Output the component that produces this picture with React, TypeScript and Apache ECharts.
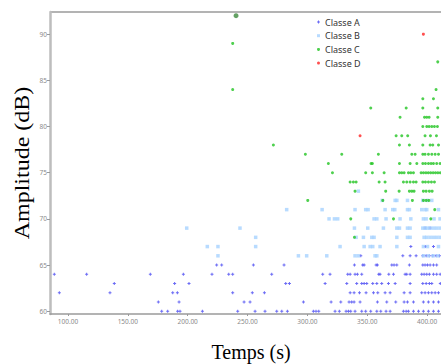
import React, { useEffect, useRef } from "react";
import * as echarts from "echarts";

// Amplitude (dB) -> times (s) of hits, per class
const classA: Record<number, number[]> = {
  60: [178.3, 183.3, 191.6, 193.6, 212.3, 241.8, 256.3, 264.6, 274.4, 278.6, 283.3, 305, 307.2, 309.5, 323.1, 326.7, 332.3, 334.3, 336.2, 339.8, 345.4, 348.7, 352.9, 358, 361.3, 365.7, 369.1, 380.2, 382.5, 384.4, 388.6, 392.8, 396.9, 401.1, 405.3, 409.5],
  61: [175.5, 192.8, 247.1, 252.1, 296.7, 319.8, 327.9, 334.8, 337, 339, 344, 358.5, 366.3, 373.8, 380.8, 383.6, 388.6, 396.9, 401.1, 405.3, 409.5],
  62: [92.8, 135.1, 187.5, 191.4, 237.6, 254, 264.1, 335.7, 339, 343.5, 349, 355.2, 358.8, 364.9, 369.1, 380.8, 385.8, 395.5, 398.3, 401.1, 403.9, 406.7, 409.5],
  63: [138.7, 189.1, 201.1, 281.9, 285, 314.8, 332.9, 341.2, 345.4, 347.4, 349.6, 354.6, 358, 362.1, 367.7, 373.3, 385.8, 396.4, 399.2, 401.9, 403.9, 411],
  64: [88.6, 115.6, 168.8, 196.4, 220.3, 234.3, 237.6, 270.2, 312.8, 318.9, 333.7, 335.7, 339.8, 341.8, 345.4, 359.6, 360.7, 368, 371.9, 381.6, 383, 385.8, 395.5, 397.5, 399.7, 401.9, 405.3, 408, 410.9],
  65: [224.2, 228.4, 254.9, 280.5, 339.3, 346.2, 347.4, 357.4, 358.5, 370.5, 372.4, 374.7, 385.2, 396.4, 398.3, 400.3, 402.5, 405.3, 408],
  66: [344.6, 379.7, 385.8, 390.8, 396.4, 399.2, 401.9, 404.7, 407.5, 410.3],
  67: [386.4, 398.5, 405.3],
  69: [398.3, 402.5],
};

const classB: Record<number, number[]> = {
  66: [225.3, 292.5, 299.4, 316.2, 339.8, 342.6, 356.5, 358, 397, 401, 405, 409],
  67: [216.4, 225.3, 256.8, 327.3, 347.4, 352.4, 354.6, 360.7, 374.7, 396.9, 400.3, 409.5],
  68: [256.8, 340.7, 346.8, 353.8, 355.7, 374.7, 383.6, 385.8, 397.5, 399.7, 402.5, 405.3, 408, 410.8],
  69: [199.2, 243.7, 339.3, 350.4, 363.5, 374.7, 376.9, 383.6, 385.8, 396.4, 398.3, 400.3, 402.5, 405.3, 408, 410.8],
  70: [318.1, 322.6, 325.3, 355.7, 358, 365.7, 377.4, 386.4, 396.9, 399.2, 405.8, 410.8],
  71: [282.7, 312.3, 339.8, 348.7, 350.7, 364.9, 371.3, 373, 383.6, 385.2, 395.5, 398.3, 399.7, 409.5],
  72: [362.5, 373.3, 374.7, 383.6, 396.4, 400.3, 403.9],
  73: [342.6],
};

const classC: Record<number, number[]> = {
  92: [240.4],
  89: [237.6],
  87: [408.9],
  84: [237.6, 407.5],
  83: [396.4, 405.3],
  82: [352.9, 382.5, 396.4, 408.9],
  81: [377.4, 397.8, 399.7, 401.7, 408.9],
  80: [396.4, 399.7, 401.7, 403.9, 406.1, 408.6],
  79: [374.1, 378.8, 383.8, 398.3, 402.8, 407.8],
  78: [271.6, 376.9, 385.2, 396.4, 402.5, 404.7, 409.5],
  77: [298.3, 328.7, 359.3, 387.2, 390, 396.4, 398.3, 401.1, 403.9, 406.7, 409.5],
  76: [317.5, 353.2, 354.3, 376.9, 385.8, 391.4, 396.4, 398.6, 401.1, 403.3, 405.3, 408, 410.8],
  75: [320.9, 348.7, 354.3, 364.1, 376.9, 378.8, 380.8, 384.4, 386.4, 388.6, 395, 397, 399, 401, 403, 405, 407, 409, 411],
  74: [335.7, 338.4, 340.7, 359.9, 364.9, 380.2, 383, 385.8, 388.6, 390.8, 396.4, 398.6, 401.1, 403.6, 406.1],
  73: [339.8, 365.4, 376.6, 385.2, 387.2, 389.1, 396.9, 399.2, 401.9, 404.2],
  72: [300.3, 363, 387.7, 396.9, 399.2, 401.4],
  71: [406.4],
  70: [336.2, 371.9, 403.1],
  68: [339.3],
};

const classD: Record<number, number[]> = {
  79: [344],
  90: [396.9],
};

const seriesNames = ["Classe A", "Classe B", "Classe C", "Classe D"];
const xTicks = [100, 150, 200, 250, 300, 350, 400];
const yTicks = [60, 65, 70, 75, 80, 85, 90];

const toPoints = (rows: Record<number, number[]>) => {
  const pts: number[][] = [];
  Object.keys(rows).forEach((k) => {
    const y = Number(k);
    rows[y].forEach((x) => pts.push([x, y]));
  });
  return pts;
};

const PLUS = "path://M1,0H2V1H3V2H2V3H1V2H0V1H1Z";
const CROSS = "path://M0,0L3,3M3,0L0,3";

export default function App() {
  const ref = useRef<HTMLDivElement>(null);
  useEffect(() => {
    if (!ref.current) return;
    const chart = echarts.init(ref.current, null, { renderer: "svg" });
    const labelFont = { fontFamily: "Noto Sans", fontSize: 6.5, color: "#8a8a8a" };
    const cData = toPoints(classC).map((p) =>
      p[1] >= 92
        ? { value: p, symbolSize: 5, itemStyle: { color: "#3d8a3d" } }
        : { value: p }
    );
    chart.setOption({
      animation: false,
      grid: { left: 50, top: 12, right: 0, bottom: 50, containLabel: false },
      legend: {
        orient: "vertical",
        left: 317,
        top: 16,
        padding: 0,
        itemGap: 1.7,
        itemWidth: 3,
        itemHeight: 3,
        data: seriesNames,
        textStyle: { fontFamily: "Noto Sans", fontSize: 9, lineHeight: 12, color: "#333", padding: [0, 0, 0, 0] },
      },
      xAxis: {
        type: "value",
        min: 85,
        max: 411.6,
        splitLine: { show: false },
        axisLine: { show: true, lineStyle: { color: "#9a9a9a", width: 1.5 } },
        axisTick: { show: true, customValues: xTicks, length: 2, lineStyle: { color: "#9a9a9a" } },
        axisLabel: {
          customValues: xTicks,
          formatter: (v: number) => v.toFixed(2),
          margin: 4,
          ...labelFont,
        },
      },
      yAxis: {
        type: "value",
        min: 59.7,
        max: 92.4,
        splitLine: { show: false },
        axisLine: { show: true, lineStyle: { color: "#bdbdbd", width: 2.5 } },
        axisTick: { show: true, customValues: yTicks, length: 3, lineStyle: { color: "#9a9a9a" } },
        axisLabel: { customValues: yTicks, margin: 3, ...labelFont },
      },
      graphic: [
        {
          type: "line",
          shape: { x1: 50, y1: 12, x2: 441, y2: 12 },
          style: { stroke: "#9a9a9a", lineWidth: 1.5 },
          silent: true,
        },
        {
          type: "text",
          x: 22,
          y: 163,
          rotation: Math.PI / 2,
          scaleX: 1.2,
          style: {
            text: "Amplitude (dB)",
            fontFamily: "Liberation Serif",
            fontSize: 20,
            fill: "#000",
            textAlign: "center",
            textVerticalAlign: "middle",
          },
        },
        {
          type: "text",
          x: 251,
          y: 352,
          style: {
            text: "Temps (s)",
            fontFamily: "Liberation Serif",
            fontSize: 20,
            fill: "#000",
            textAlign: "center",
            textVerticalAlign: "middle",
          },
        },
      ],
      series: [
        {
          name: seriesNames[0],
          type: "scatter",
          symbol: PLUS,
          symbolSize: 3,
          itemStyle: { color: "#4646f2" },
          data: toPoints(classA),
        },
        {
          name: seriesNames[1],
          type: "scatter",
          symbol: "rect",
          symbolSize: 3.5,
          itemStyle: { color: "#a6d2ff" },
          data: toPoints(classB),
        },
        {
          name: seriesNames[2],
          type: "scatter",
          symbol: "circle",
          symbolSize: 3,
          itemStyle: { color: "#22c422" },
          data: cData,
        },
        {
          name: seriesNames[3],
          type: "scatter",
          symbol: "circle",
          symbolSize: 3,
          itemStyle: { color: "#ff2424" },
          data: toPoints(classD),
        },
      ],
    });
    return () => chart.dispose();
  }, []);
  return (
    <div
      ref={ref}
      style={{ position: "fixed", left: 0, top: 0, width: 441, height: 364, background: "#fff" }}
    />
  );
}
